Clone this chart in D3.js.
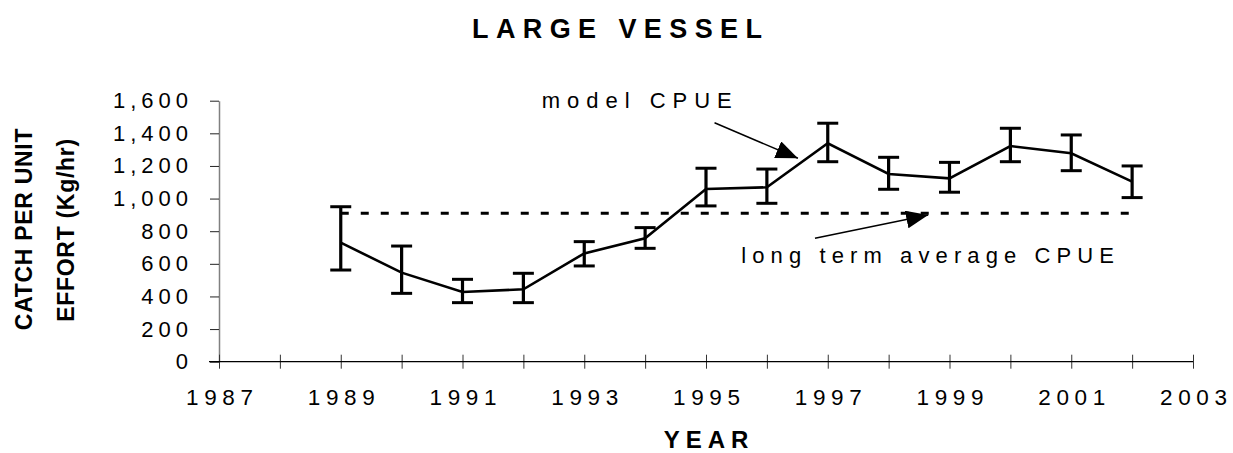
<!DOCTYPE html>
<html>
<head>
<meta charset="utf-8">
<script src="https://cdn.jsdelivr.net/npm/d3@7"></script>
<style>
  body { margin: 0; background: #fff; }
  svg { display: block; font-family: "Liberation Sans", Arial, sans-serif; }
</style>
</head>
<body>
<div id="wrapper"></div>
<script>
// Data
const years = [1989, 1990, 1991, 1992, 1993, 1994, 1995, 1996, 1997, 1998, 1999, 2000, 2001, 2002];
const cpue = [730, 546, 427, 444, 664, 756, 1059, 1069, 1339, 1151, 1124, 1322, 1278, 1104];
const upper = [950, 709, 505, 542, 736, 822, 1186, 1181, 1462, 1253, 1222, 1431, 1390, 1200];
const lower = [562, 419, 362, 362, 587, 695, 955, 971, 1226, 1057, 1039, 1226, 1171, 1006];
const longTermAvg = 910;
const yTicks = [0, 200, 400, 600, 800, 1000, 1200, 1400, 1600];
const xTicks = [1987, 1988, 1989, 1990, 1991, 1992, 1993, 1994, 1995, 1996, 1997, 1998, 1999, 2000, 2001, 2002, 2003];
const xLabels = [1987, 1989, 1991, 1993, 1995, 1997, 1999, 2001, 2003];

const dataset = years.map((yr, i) => ({ year: yr, value: cpue[i], hi: upper[i], lo: lower[i] }));

const dimensions = {
  width: 1233,
  height: 453,
  margins: { top: 100.7, right: 40, bottom: 91.3, left: 219 },
};
dimensions.boundedWidth = 1193 - dimensions.margins.left;
dimensions.boundedHeight = dimensions.height - dimensions.margins.top - dimensions.margins.bottom;

const xAccessor = (d) => d.year;
const yAccessor = (d) => d.value;

const wrapper = d3.select("#wrapper")
  .append("svg")
  .attr("width", dimensions.width)
  .attr("height", dimensions.height);

const bounds = wrapper.append("g")
  .attr("transform", `translate(${dimensions.margins.left},${dimensions.margins.top})`);

const xScale = d3.scaleLinear().domain([1987, 2003]).range([0, dimensions.boundedWidth]);
const yScale = d3.scaleLinear().domain([0, 1600]).range([dimensions.boundedHeight, 0]);

// Y axis
const yAxisGenerator = d3.axisLeft(yScale)
  .tickValues(yTicks)
  .tickSize(9)
  .tickSizeOuter(0)
  .tickPadding(22)
  .tickFormat(d3.format(","));
const yAxis = bounds.append("g").call(yAxisGenerator);
yAxis.select(".domain").attr("stroke", "#808080").attr("stroke-width", 1.5);
yAxis.selectAll(".tick line").attr("stroke", "#222");
yAxis.selectAll(".tick text")
  .attr("font-size", 22)
  .attr("fill", "#000")
  .style("letter-spacing", "5px")
  .attr("dx", 5);

// X axis
const xAxisGenerator = d3.axisBottom(xScale)
  .tickValues(xTicks)
  .tickSize(7)
  .tickSizeOuter(0)
  .tickPadding(20)
  .tickFormat((d) => (xLabels.includes(d) ? d : ""));
const xAxis = bounds.append("g")
  .attr("transform", `translate(0,${dimensions.boundedHeight})`)
  .call(xAxisGenerator);
xAxis.select(".domain").remove();
xAxis.append("line")
  .attr("x1", -10)
  .attr("x2", dimensions.boundedWidth)
  .attr("stroke", "#000")
  .attr("stroke-width", 1.3);
xAxis.selectAll(".tick line").attr("y1", -7).attr("stroke", "#333");
xAxis.selectAll(".tick text")
  .attr("font-size", 22.5)
  .attr("fill", "#000")
  .style("letter-spacing", "5.6px")
  .attr("dx", 2.8);

// Long term average (dashed)
bounds.append("line")
  .attr("x1", xScale(years[0]))
  .attr("x2", xScale(years[years.length - 1]))
  .attr("y1", yScale(longTermAvg))
  .attr("y2", yScale(longTermAvg))
  .attr("stroke", "#000")
  .attr("stroke-width", 3)
  .attr("stroke-dasharray", "8,12");

// Error bars
const bars = bounds.append("g").selectAll("g")
  .data(dataset)
  .join("g");
bars.append("line")
  .attr("x1", (d) => xScale(xAccessor(d)))
  .attr("x2", (d) => xScale(xAccessor(d)))
  .attr("y1", (d) => yScale(d.lo))
  .attr("y2", (d) => yScale(d.hi))
  .attr("stroke", "#000")
  .attr("stroke-width", 3.2);
["hi", "lo"].forEach((k) => {
  bars.append("line")
    .attr("x1", (d) => xScale(xAccessor(d)) - 10.5)
    .attr("x2", (d) => xScale(xAccessor(d)) + 10.5)
    .attr("y1", (d) => yScale(d[k]))
    .attr("y2", (d) => yScale(d[k]))
    .attr("stroke", "#000")
    .attr("stroke-width", 3);
});

// Model CPUE line
const lineGenerator = d3.line()
  .x((d) => xScale(xAccessor(d)))
  .y((d) => yScale(yAccessor(d)));
bounds.append("path")
  .datum(dataset)
  .attr("d", lineGenerator)
  .attr("fill", "none")
  .attr("stroke", "#000")
  .attr("stroke-width", 2.6)
  .attr("stroke-linejoin", "miter");

// Annotations
const defs = wrapper.append("defs");
defs.append("marker")
  .attr("id", "head")
  .attr("viewBox", "0 0 22 18")
  .attr("refX", 22)
  .attr("refY", 9)
  .attr("markerWidth", 22)
  .attr("markerHeight", 18)
  .attr("markerUnits", "userSpaceOnUse")
  .attr("orient", "auto")
  .append("path")
  .attr("d", "M0,0 L22,9 L0,18 Z")
  .attr("fill", "#000");

const annotations = [
  { text: "model CPUE", tx: 1992.3, ty: 1553, spacing: 7, from: [1995.14, 1465], to: [1996.51, 1247] },
  { text: "long term average CPUE", tx: 1995.58, ty: 603, spacing: 6.1, from: [1996.79, 757], to: [1998.65, 899] },
];
annotations.forEach((a) => {
  bounds.append("text")
    .attr("x", xScale(a.tx))
    .attr("y", yScale(a.ty))
    .attr("font-size", 22)
    .style("letter-spacing", `${a.spacing}px`)
    .text(a.text);
  bounds.append("line")
    .attr("x1", xScale(a.from[0]))
    .attr("y1", yScale(a.from[1]))
    .attr("x2", xScale(a.to[0]))
    .attr("y2", yScale(a.to[1]))
    .attr("stroke", "#000")
    .attr("stroke-width", 1.5)
    .attr("marker-end", "url(#head)");
});

// Titles
wrapper.append("text")
  .attr("x", 617 + 3.7)
  .attr("y", 38)
  .attr("text-anchor", "middle")
  .attr("font-size", 27)
  .attr("font-weight", "bold")
  .style("letter-spacing", "7.4px")
  .text("LARGE VESSEL");

wrapper.append("text")
  .attr("x", dimensions.margins.left + dimensions.boundedWidth / 2 + 3)
  .attr("y", 448)
  .attr("text-anchor", "middle")
  .attr("font-size", 24)
  .attr("font-weight", "bold")
  .style("letter-spacing", "6px")
  .text("YEAR");

const yLabel = wrapper.append("text")
  .attr("transform", "rotate(-90)")
  .attr("text-anchor", "middle")
  .attr("font-size", 23)
  .attr("font-weight", "bold")
  .style("letter-spacing", "0.7px");
yLabel.append("tspan").attr("x", -229).attr("y", 32).text("CATCH PER UNIT");
yLabel.append("tspan").attr("x", -230).attr("y", 74).text("EFFORT (Kg/hr)");
</script>
</body>
</html>
